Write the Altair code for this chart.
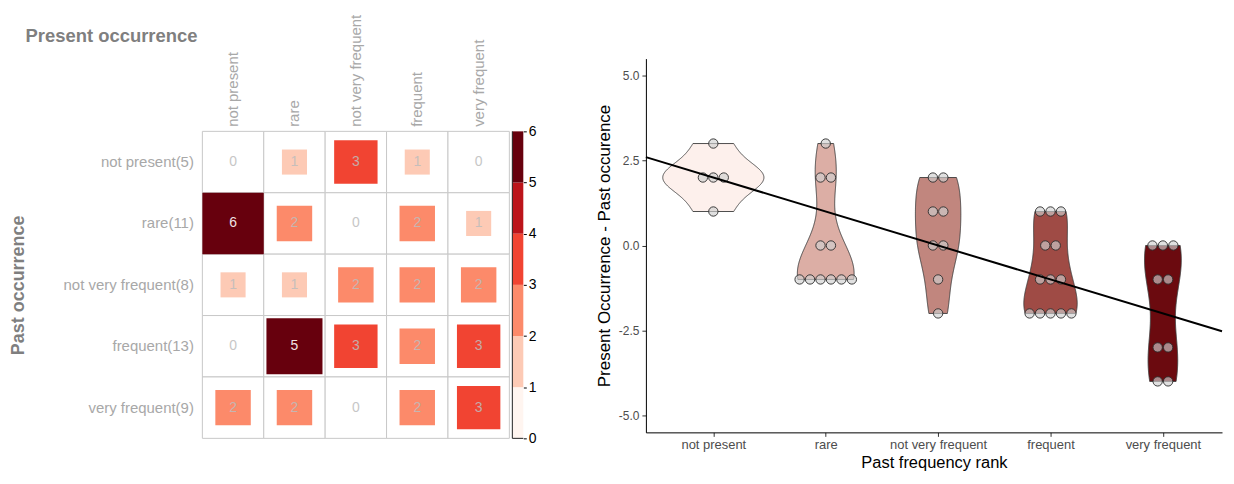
import json
import altair as alt
import numpy as np
import pandas as pd

FONT = "Liberation Sans"

# ---------------- data ----------------
present_labels = ["not present", "rare", "not very frequent", "frequent", "very frequent"]
past_labels = ["not present(5)", "rare(11)", "not very frequent(8)", "frequent(13)", "very frequent(9)"]

counts_not_present = [0, 1, 3, 1, 0]
counts_rare = [6, 2, 0, 2, 1]
counts_not_very_frequent = [1, 1, 2, 2, 2]
counts_frequent = [0, 5, 3, 2, 3]
counts_very_frequent = [2, 2, 0, 2, 3]
matrix = [counts_not_present, counts_rare, counts_not_very_frequent,
          counts_frequent, counts_very_frequent]

colorbar_ticks = [0, 1, 2, 3, 4, 5, 6]
bin_colors = ["#FFF5F0", "#FDCAB5", "#FC8A6A", "#F14432", "#BC141A", "#67000D"]

rank_labels = present_labels
violin_fills = ["#FDF0EC", "#DCAEA5", "#C1867E", "#9F4B45", "#6B0A0F"]
y_ticks = [-5.0, -2.5, 0.0, 2.5, 5.0]
x_domain = [0.4, 5.526]
y_domain = [-5.5, 5.5]
line_intercept = 3.0
line_slope = -1.0

# ---------------- derived tables ----------------
cells = pd.DataFrame([
    {"past": past_labels[r], "present": present_labels[c], "n": matrix[r][c]}
    for r in range(5) for c in range(5)
])

bar_df = pd.DataFrame({"lo": colorbar_ticks[:-1], "hi": colorbar_ticks[1:], "col": bin_colors})

# points: difference (present rank - past rank) for every item
pts_rows = []
for r in range(5):
    for c in range(5):
        for _ in range(matrix[r][c]):
            pts_rows.append({"g": r + 1, "value": c - r})
pts = pd.DataFrame(pts_rows)


def nrd0(v):
    v = np.asarray(v, float)
    hi = v.std(ddof=1)
    q75, q25 = np.percentile(v, [75, 25])
    lo = min(hi, (q75 - q25) / 1.34)
    if lo == 0:
        lo = hi or abs(v[0]) or 1.0
    return 0.9 * lo * len(v) ** -0.2


groups = [pts.loc[pts.g == i + 1, "value"].to_numpy(float) for i in range(5)]
bws = [nrd0(v) for v in groups]
gmax = 0.0
for v, bw in zip(groups, bws):
    grid = np.linspace(v.min(), v.max(), 512)
    dens = np.exp(-0.5 * ((grid[:, None] - v[None, :]) / bw) ** 2).sum(1) / (len(v) * bw * np.sqrt(2 * np.pi))
    gmax = max(gmax, dens.max())
K = 0.45 / gmax          # half of width 0.9 for the widest violin
DOT = 0.093              # dot spacing in x units

# ---------------- heatmap ----------------
CELL = 61.6
TOP = 73                 # empty band above the grid (aligns with the right panel)
HW, HH = 322, TOP + 5 * CELL
px = (HW / CELL - 5) / 2
py = (HH / CELL - 5) / 2
x_sc = alt.Scale(domain=present_labels, paddingInner=0, paddingOuter=px, align=0)
y_sc = alt.Scale(domain=past_labels, paddingInner=0, paddingOuter=py, align=1)

X = alt.X("present:N", scale=x_sc, axis=alt.Axis(
    orient="top", offset=-TOP, domain=False, ticks=False, tickSize=0,
    labelAngle=270, labelAlign="left", labelBaseline="middle",
    labelPadding=5, labelFontSize=15, labelColor="#A8A8A8", labelFont=FONT,
    title="Present occurrence", titleFont=FONT, titleFontSize=18.5, titleFontWeight="bold",
    titleColor="#7F7F7F", titleX=-178, titleY=-90, titleAlign="left",
    titleBaseline="alphabetic", titleAngle=0))
Y = alt.Y("past:N", scale=y_sc, axis=alt.Axis(
    orient="left", domain=False, ticks=False, tickSize=0,
    labelPadding=9, labelFontSize=15, labelColor="#A8A8A8", labelFont=FONT,
    title="Past occurrence", titleFont=FONT, titleFontSize=18, titleFontWeight="bold",
    titleColor="#7F7F7F", titleX=-179, titleY=TOP + 2.5 * CELL, titleAlign="center",
    titleBaseline="alphabetic", titleAngle=270))

base = alt.Chart(cells)
grid_l = base.mark_rect(fill="white", stroke="#C8C8C8", strokeWidth=1).encode(x=X, y=Y)
sq = base.transform_filter("datum.n > 0").mark_square(strokeWidth=0, opacity=1).encode(
    x=X, y=Y,
    size=alt.Size("n:Q", scale=alt.Scale(domain=[0, 6], range=[0, CELL * CELL]), legend=None),
    color=alt.Color("n:Q", scale=alt.Scale(type="threshold", domain=[1, 2, 3, 4, 5], range=bin_colors), legend=None),
)
txt = base.mark_text(font=FONT, fontSize=14, baseline="middle", align="center").encode(
    x=X, y=Y, text="n:Q",
    color=alt.condition("datum.n >= 5", alt.value("#EFE3E3"), alt.value("#BDBDBD")),
    opacity=alt.condition("datum.n >= 5", alt.value(1.0), alt.value(0.85)),
)
heat = alt.layer(grid_l, sq, txt)

BY = alt.Y("lo:Q", scale=alt.Scale(domain=[0, 6], range=[HH, TOP]), axis=alt.Axis(
    orient="right", values=colorbar_ticks, title=None, domain=False, grid=False,
    tickSize=3, tickColor="black", labelColor="black", labelFontSize=14, labelFont=FONT,
    labelPadding=2, format="d"))
BX = alt.X("x0:Q", scale=alt.Scale(domain=[0, 1], range=[311, 322]), axis=None)
bar_base = alt.Chart(bar_df).transform_calculate(x0="0", x1="1")
bar_rect = bar_base.mark_rect().encode(y=BY, y2="hi:Q", x=BX, x2="x1:Q",
                                       fill=alt.Fill("col:N", scale=None))
bar_agg = bar_base.transform_aggregate(lo="min(lo)", hi="max(hi)").transform_calculate(x0="0", x1="1")
bar_left = bar_agg.mark_rule(color="#222222", strokeWidth=1).encode(y=BY, y2="hi:Q", x=BX)
bar_bottom = bar_agg.mark_rule(color="#222222", strokeWidth=1).encode(y=BY, x=BX, x2="x1:Q")
cbar = alt.layer(bar_rect, bar_left, bar_bottom)

left = alt.layer(heat, cbar).resolve_scale(x="independent", y="independent").properties(width=HW, height=HH)

# ---------------- violin panel ----------------
VW, VH = 578, 375
label_js = json.dumps(rank_labels)
VX_AX = alt.Axis(values=[1, 2, 3, 4, 5], labelExpr=f"{label_js}[datum.value - 1]",
                 grid=False, domainColor="black", domainWidth=1, tickColor="#333333",
                 tickSize=4, labelColor="#4D4D4D", labelFontSize=13, labelFont=FONT,
                 labelPadding=2, title="Past frequency rank", titleFont=FONT,
                 titleFontSize=16.5, titleColor="black", titleFontWeight="normal",
                 titleY=35, titleBaseline="alphabetic")
VY_AX = alt.Axis(values=y_ticks, labelExpr="replace(format(datum.value, '.1f'), '\u2212', '-')",
                 grid=False, domainColor="black", domainWidth=1, tickColor="#333333",
                 tickSize=4, labelColor="#4D4D4D", labelFontSize=12, labelFont=FONT,
                 labelPadding=3, title="Present Occurrence - Past occurence", titleFont=FONT,
                 titleFontSize=17, titleColor="black", titleFontWeight="normal",
                 titleX=-37, titleY=VH / 2, titleAngle=270, titleAlign="center",
                 titleBaseline="alphabetic")
VXS = alt.Scale(domain=x_domain, nice=False, zero=False)
VYS = alt.Scale(domain=y_domain, nice=False, zero=False)

layers = []
for i in range(5):
    v = groups[i]
    layers.append(
        alt.Chart(pts).transform_filter(f"datum.g == {i + 1}")
        .transform_density("value", as_=["v", "density"], bandwidth=float(bws[i]),
                           extent=[float(v.min()), float(v.max())], steps=200)
        .transform_calculate(xl=f"{i + 1} - datum.density * {K}", xr=f"{i + 1} + datum.density * {K}")
        .mark_area(orient="horizontal", fill=violin_fills[i], stroke="#3A3A3A", strokeWidth=0.9, opacity=1)
        .encode(y=alt.Y("v:Q", scale=VYS, axis=VY_AX), x=alt.X("xl:Q", scale=VXS, axis=VX_AX), x2="xr:Q")
    )

dots = (alt.Chart(pts)
        .transform_window(rn="row_number()", groupby=["g", "value"])
        .transform_joinaggregate(cnt="count()", groupby=["g", "value"])
        .transform_calculate(xd=f"datum.g + (datum.rn - (datum.cnt + 1) / 2) * {DOT}")
        .mark_circle(size=88, fill="#D0D0D0", fillOpacity=0.65, stroke="#2B2B2B", strokeWidth=0.9, opacity=1)
        .encode(x=alt.X("xd:Q", scale=VXS, axis=VX_AX), y=alt.Y("value:Q", scale=VYS, axis=VY_AX)))

line_df = pd.DataFrame({"x": x_domain})
line = (alt.Chart(line_df)
        .transform_calculate(y=f"{line_intercept} + ({line_slope}) * datum.x")
        .mark_line(color="black", strokeWidth=2)
        .encode(x=alt.X("x:Q", scale=VXS, axis=VX_AX), y=alt.Y("y:Q", scale=VYS, axis=VY_AX)))

violin = alt.layer(*layers, dots, line).properties(width=VW, height=VH)

chart = (alt.hconcat(left, violin, spacing=58)
         .properties(padding={"left": 2, "top": 5, "right": 0, "bottom": 0})
         .configure(font=FONT)
         .configure_view(stroke="transparent", strokeWidth=0))

chart.save("out.html", embed_options={"renderer": "svg", "actions": False})
